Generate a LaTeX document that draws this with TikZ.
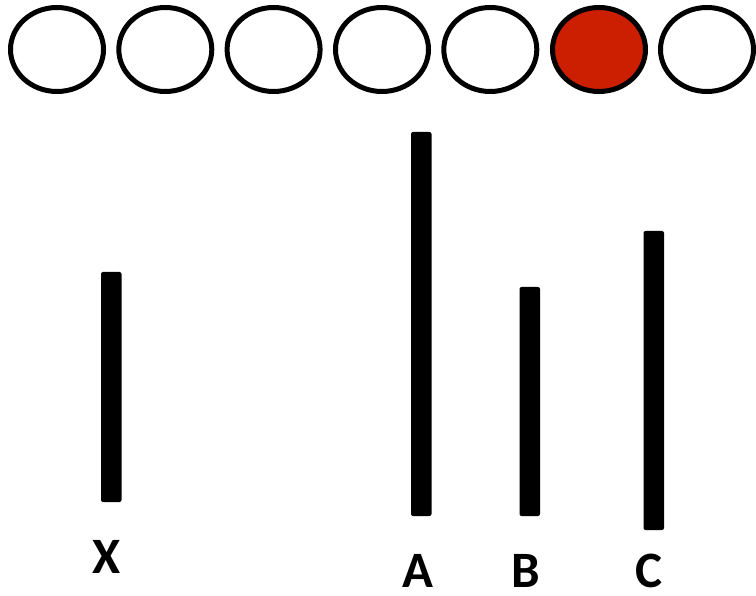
\documentclass[tikz,border=0pt]{standalone}
\usepackage{fontspec}
\setmainfont{Carlito}
\definecolor{redfill}{RGB}{204,30,0}
\begin{document}
\begin{tikzpicture}[x=1pt,y=-1pt,
  dot/.style={draw=black,line width=5pt,fill=white},
  bar/.style={fill=black,rounded corners=2pt},
  biglabel/.style={font=\bfseries\fontsize{51}{51}\selectfont,inner sep=0pt}]
\useasboundingbox (0,0) rectangle (756,596);
\foreach \cx in {57,165.3,273.6,382,490.3,707}{
  \draw[dot] (\cx,49.5) ellipse [x radius=46.5,y radius=42];
}
\draw[dot,fill=redfill] (599,49.5) ellipse [x radius=46.5,y radius=42];
\fill[bar] (101,272) rectangle (121.5,502);
\fill[bar] (411,132) rectangle (431.5,516);
\fill[bar] (519.5,287) rectangle (540,516);
\fill[bar] (643.5,231) rectangle (664,530);
\node[biglabel] (lx) at (107,556.5) {X};
\node[biglabel] (la) at (418.3,570.5) {A};
\node[biglabel] (lb) at (526,570.5) {B};
\node[biglabel] (lc) at (649,570.5) {C};
\end{tikzpicture}
\end{document}
